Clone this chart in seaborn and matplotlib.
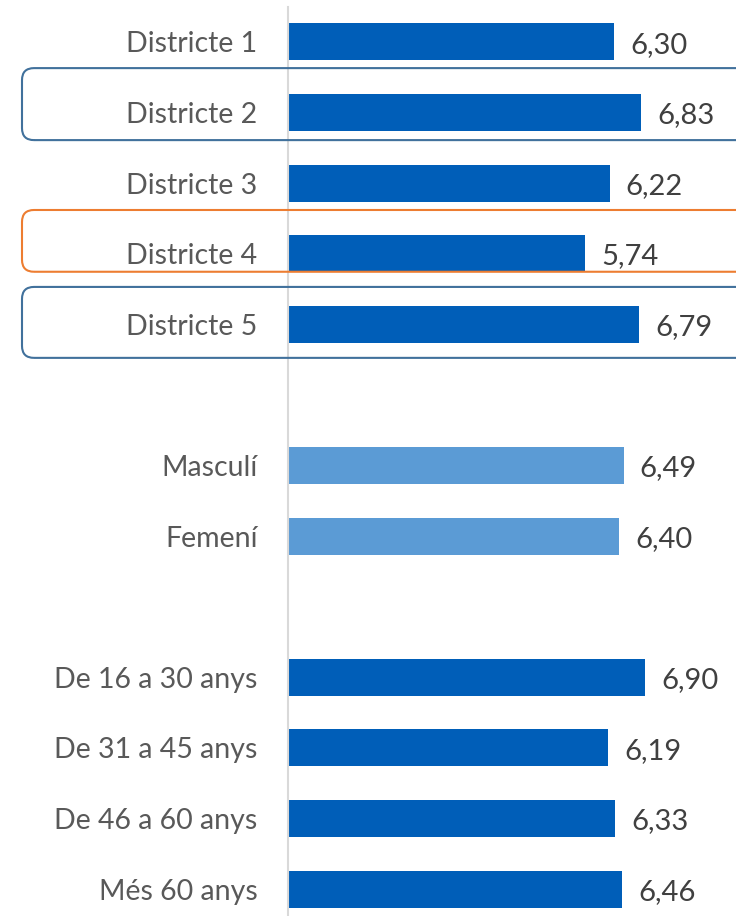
import matplotlib
matplotlib.use("Agg")
import matplotlib.pyplot as plt
import seaborn as sns
import pandas as pd
from matplotlib.patches import FancyBboxPatch
from matplotlib.transforms import IdentityTransform

# Average score by district, sex and age group
districts = ["Districte 1", "Districte 2", "Districte 3", "Districte 4", "Districte 5"]
district_scores = [6.30, 6.83, 6.22, 5.74, 6.79]
sexes = ["Masculí", "Femení"]
sex_scores = [6.49, 6.40]
ages = ["De 16 a 30 anys", "De 31 a 45 anys", "De 46 a 60 anys", "Més 60 anys"]
age_scores = [6.90, 6.19, 6.33, 6.46]

DARK_BLUE = "#005EB8"
LIGHT_BLUE = "#5B9BD5"
palette = {"districte": DARK_BLUE, "sexe": LIGHT_BLUE, "edat": DARK_BLUE}

# Rows to frame: (label, colour, extent above centre, extent below centre) in row units
highlights = [
    ("Districte 2", "#41719C", 0.63, 0.39),
    ("Districte 4", "#ED7D31", 0.62, 0.255),
    ("Districte 5", "#41719C", 0.53, 0.475),
]

df = pd.DataFrame({
    "label": districts + sexes + ages,
    "score": district_scores + sex_scores + age_scores,
    "group": ["districte"] * len(districts) + ["sexe"] * len(sexes) + ["edat"] * len(ages),
})
# blank slots separate the three blocks
order = districts + [" "] + sexes + ["  "] + ages

sns.set_theme(style="white")
plt.rcParams["font.family"] = ["Lato", "DejaVu Sans"]

W, H, DPI = 736, 916, 100
fig = plt.figure(figsize=(W / DPI, H / DPI), dpi=DPI)
ax = fig.add_axes([288 / W, 0, 448 / W, (H - 6.7) / H])

sns.barplot(data=df, x="score", y="label", hue="group", palette=palette,
            order=order, orient="h", width=0.524, dodge=False, legend=False,
            saturation=1, linewidth=0, ax=ax)

ax.set_xlim(0, 8.66)
ax.set_ylim(len(order) - 1 + 0.382, -0.5)
ax.set_xlabel("")
ax.set_ylabel("")
ax.set_xticks([])
ax.tick_params(axis="y", length=0, pad=22, labelsize=20.5, labelcolor="#595959")
for side in ("top", "right", "bottom"):
    ax.spines[side].set_visible(False)
ax.spines["left"].set_color("#D9D9D9")
ax.spines["left"].set_linewidth(1.5)

for label, score in zip(df["label"], df["score"]):
    y = order.index(label)
    ax.annotate(f"{score:.2f}".replace(".", ","), xy=(score, y),
                xytext=(11.5, -2), textcoords="offset points",
                ha="left", va="center", fontsize=21, color="#404040")

# rounded frames around highlighted districts (drawn in pixel space)
for label, color, up, down in highlights:
    y = order.index(label)
    y_top = ax.transData.transform((0, y - up))[1]
    y_bot = ax.transData.transform((0, y + down))[1]
    box = FancyBboxPatch((22, y_bot), W + 40, y_top - y_bot,
                         boxstyle="round,pad=0,rounding_size=12",
                         transform=IdentityTransform(), fill=False,
                         edgecolor=color, linewidth=1.5, zorder=5)
    fig.add_artist(box)

fig.savefig("out.png", dpi=DPI)
